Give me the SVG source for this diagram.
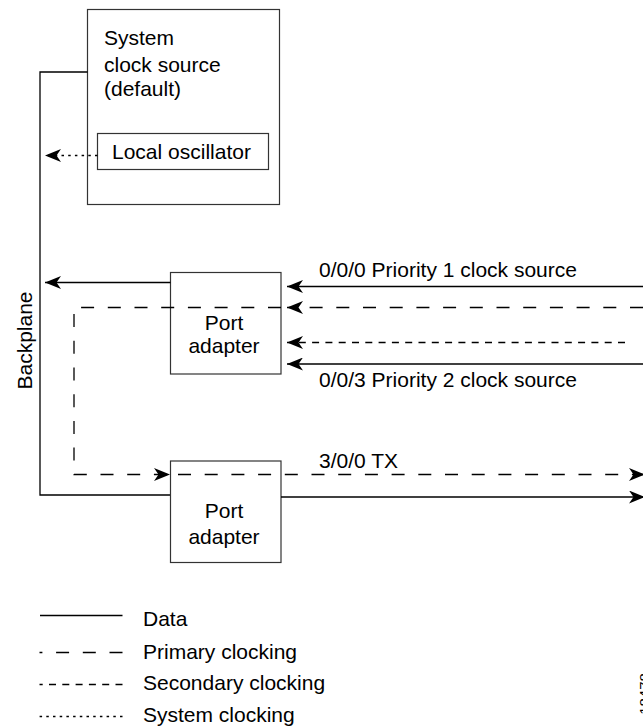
<svg xmlns="http://www.w3.org/2000/svg" width="643" height="726" viewBox="0 0 643 726">
<style>
text{font-family:"Liberation Sans",Arial,sans-serif;font-size:21px;fill:#000}
.box{fill:none;stroke:#333;stroke-width:1.2}
.ln{fill:none;stroke:#000;stroke-width:1.3}
.pri{stroke-dasharray:13 13.7}
.sec{stroke-dasharray:7 6.3}
.sys{stroke-dasharray:2.5 4.2}
</style>
<defs>
<marker id="ah" viewBox="0 0 16 13" refX="16" refY="6.5" markerWidth="16" markerHeight="13" markerUnits="userSpaceOnUse" orient="auto">
<path d="M0,0 L16,6.5 L0,13 L4.5,6.5 Z" fill="#000"/>
</marker>
</defs>
<g id="system-clock-source">
<rect class="box" x="87.5" y="9.5" width="192" height="195"/>
<text x="104" y="45">System</text>
<text x="104" y="71.5">clock source</text>
<text x="104" y="96">(default)</text>
</g>
<g id="local-oscillator">
<rect class="box" x="97.5" y="133.5" width="171" height="36"/>
<text x="112" y="159">Local oscillator</text>
</g>
<g id="backplane">
<path class="ln" d="M87.5,72 H40 V495 H170.5"/>
<text transform="translate(32,340.5) rotate(-90)" text-anchor="middle">Backplane</text>
</g>
<g id="port-adapter-1">
<rect class="box" x="170.5" y="272.5" width="110.5" height="101.5"/>
<text x="224" y="330" text-anchor="middle">Port</text>
<text x="224" y="353" text-anchor="middle">adapter</text>
</g>
<g id="port-adapter-2">
<rect class="box" x="170.5" y="461" width="110.5" height="101.5"/>
<text x="224" y="517.5" text-anchor="middle">Port</text>
<text x="224" y="543.5" text-anchor="middle">adapter</text>
</g>
<g id="connectors">
<path class="ln sys" d="M97.5,155.5 H45" marker-end="url(#ah)"/>
<path class="ln" d="M170.5,282.5 H45" marker-end="url(#ah)"/>
<path class="ln" d="M643,286.5 H287" marker-end="url(#ah)"/>
<path class="ln pri" d="M643,307.5 H287" marker-end="url(#ah)"/>
<path class="ln sec" d="M625,342.5 H287" marker-end="url(#ah)"/>
<path class="ln" d="M643,364 H287" marker-end="url(#ah)"/>
<path class="ln pri" d="M281,307.5 H74 V474.5 H170" marker-end="url(#ah)"/>
<path class="ln pri" d="M178,474.5 H645" marker-end="url(#ah)"/>
<path class="ln" d="M281,497 H645" marker-end="url(#ah)"/>
<text x="319" y="277">0/0/0 Priority 1 clock source</text>
<text x="319" y="387">0/0/3 Priority 2 clock source</text>
<text x="319" y="467.5">3/0/0 TX</text>
</g>
<g id="legend">
<path class="ln" d="M40,615.5 H122.5" stroke="#555"/>
<text x="143" y="625.5">Data</text>
<path class="ln pri" d="M122.5,652.5 H39.5"/>
<text x="143" y="658.5">Primary clocking</text>
<path class="ln sec" d="M122.5,684.5 H39.5"/>
<text x="143" y="690">Secondary clocking</text>
<path class="ln sys" d="M122.5,716.5 H39.5"/>
<text x="143" y="721.5">System clocking</text>
</g>
<text transform="translate(649.5,694) rotate(-90)" text-anchor="middle" style="font-size:15px">18478</text>
</svg>
